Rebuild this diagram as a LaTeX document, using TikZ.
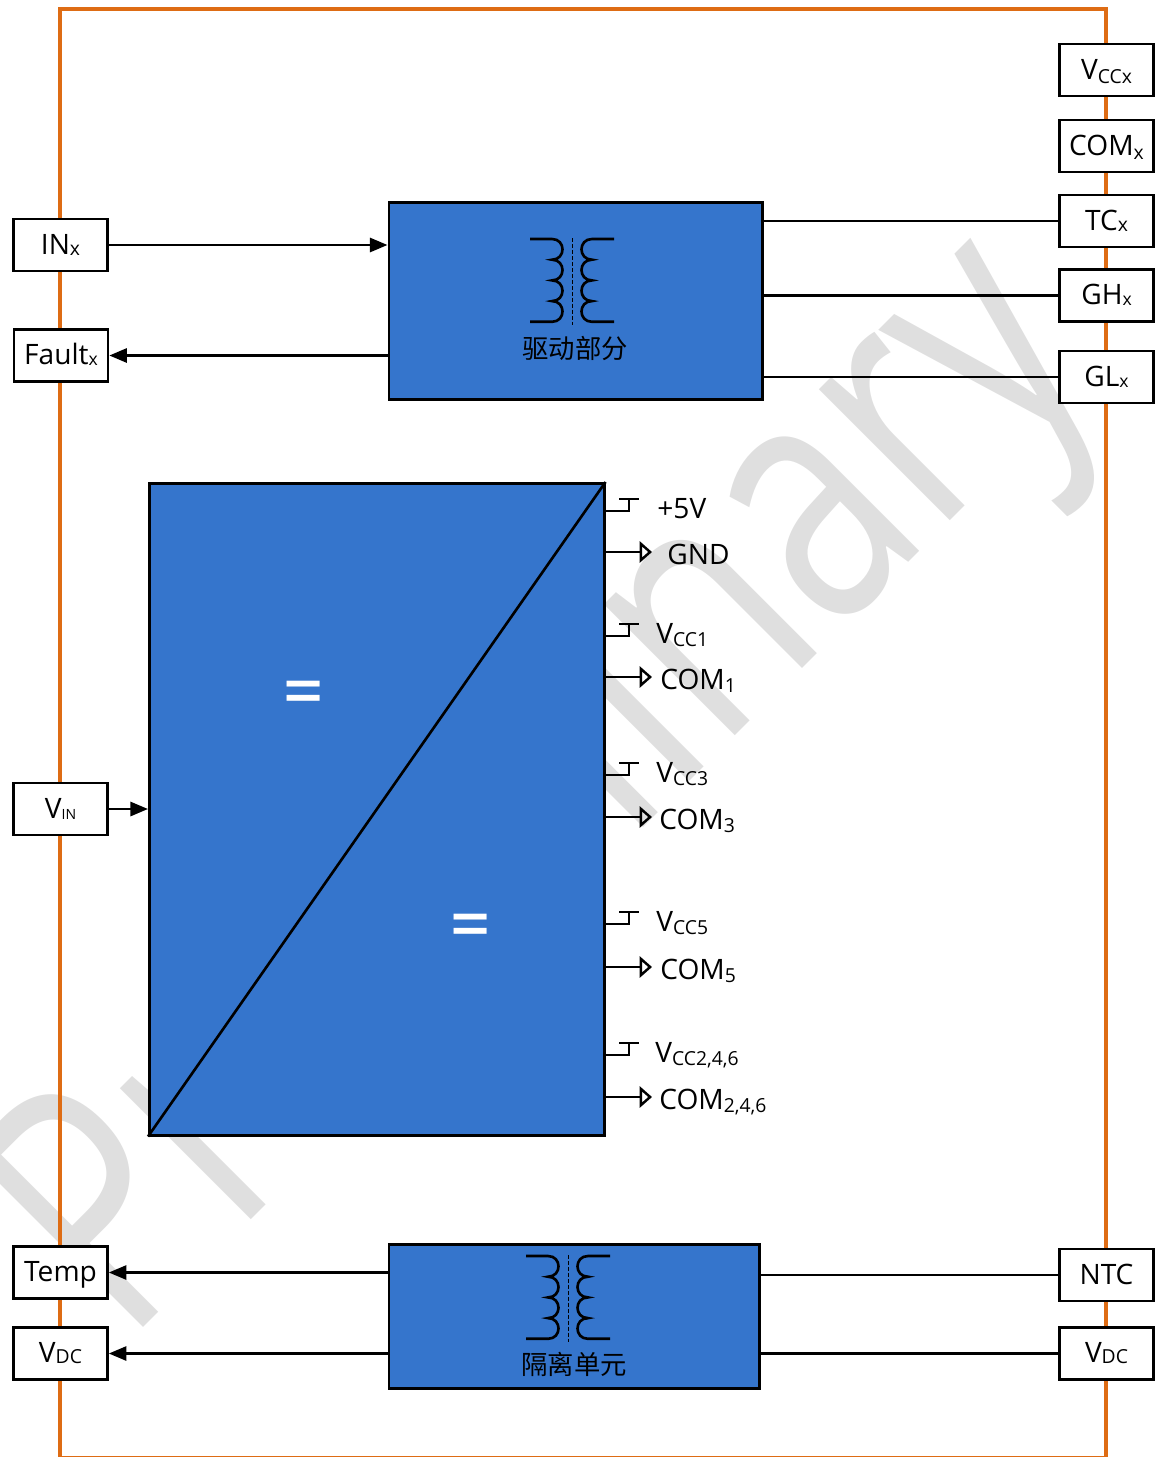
\documentclass[tikz,border=0pt]{standalone}
\usepackage{fontspec}
\setmainfont{Open Sans}
\newfontfamily\cjkfont{Noto Sans CJK SC}
\newfontfamily\eqfont{DejaVu Sans}
\usetikzlibrary{arrows.meta, positioning, calc}
\definecolor{drvblue}{RGB}{53, 117, 204}
\definecolor{frameorange}{RGB}{222, 108, 20}
\definecolor{wmgray}{RGB}{223, 223, 223}
\newcommand{\pinlab}[3][11]{#2{\fontsize{#1}{#1}\selectfont\raisebox{-2.2pt}{#3}}}
\newcommand{\pintag}[3][11]{#2{\fontsize{#1}{#1}\selectfont\raisebox{-0.7pt}{#3}}}
\begin{document}
\begin{tikzpicture}[
  x=0.02cm, y=-0.02cm,
  pinbox/.style={draw=black, fill=white, line width=1.5pt, minimum width=1.88cm, minimum height=1.04cm, inner sep=0pt, text height=10.5pt, text depth=0pt, font=\fontsize{16}{16}\selectfont},
  bluebox/.style={draw=black, fill=drvblue, line width=1.5pt, inner sep=0pt, anchor=north west},
  wire/.style={draw=black, line width=1.5pt},
  sig/.style={wire, -{Triangle[length=10pt, width=8pt]}},
  hollow/.style={wire, -{Triangle[open, length=7pt, width=12pt, line width=1.4pt]}},
  outlab/.style={anchor=base west, inner sep=0pt, font=\fontsize{16}{16}\selectfont},
  cjklab/.style={inner sep=0pt, font=\cjkfont\fontsize{15}{15}\selectfont},
  eqmark/.style={text=white, inner sep=0pt, yscale=1.35, font=\eqfont\fontsize{30}{30}\selectfont},
  coilpair/.pic={
    \draw[line width=1.5pt] (0,0) -- (22,0)
      .. controls +(14,0) and +(14,0) .. ++(0,20.7)
      .. controls +(14,0) and +(14,0) .. ++(0,20.7)
      .. controls +(14,0) and +(14,0) .. ++(0,20.7)
      .. controls +(14,0) and +(14,0) .. ++(0,20.7) -- ++(-22,0);
    \draw[line width=1.5pt] (84,0) -- (62,0)
      .. controls +(-14,0) and +(-14,0) .. ++(0,20.7)
      .. controls +(-14,0) and +(-14,0) .. ++(0,20.7)
      .. controls +(-14,0) and +(-14,0) .. ++(0,20.7)
      .. controls +(-14,0) and +(-14,0) .. ++(0,20.7) -- ++(22,0);
    \draw[line width=0.5pt, dash pattern=on 2.2pt off 1.2pt] (42,-1) -- (42,86);
  }
]
  \useasboundingbox (0,0) rectangle (1157,1457);
  % watermark
  \begin{scope}
    \clip (0,0) rectangle (1157,1457);
    \node[anchor=base west, inner sep=0pt, rotate=45, xscale=0.75, text=wmgray, font=\fontsize{197}{197}\selectfont] (wmark) at (125,1346) {Preliminary};
  \end{scope}
  % frame
  \draw[draw=frameorange, line width=2.4pt] (60,9) rectangle (1106,1458);

  % blue blocks
  \node[bluebox, minimum width=7.48cm, minimum height=3.94cm] (drv) at (387.5,201) {};
  \node[bluebox, minimum width=9.1cm, minimum height=13.04cm] (dcdc) at (148,482) {};
  \node[bluebox, minimum width=7.42cm, minimum height=2.88cm] (iso) at (387.5,1243) {};
  \draw[wire] (dcdc.south west) -- (dcdc.north east);
  \node[eqmark] (eqin) at (304,697) {=};
  \node[eqmark] (eqout) at (471,930) {=};
  \pic at (530,239) {coilpair};
  \pic at (526,1256) {coilpair};
  \node[cjklab] (drvlab) at (575,348) {驱动部分};
  \node[cjklab] (isolab) at (574,1364) {隔离单元};

  % pins, left side
  \node[pinbox] (inx) at (60.5,245) {\pintag{IN}{x}};
  \node[pinbox] (fault) at (61,355.5) {\pintag[10]{Fault}{x}};
  \node[pinbox] (vin) at (60.5,809) {\pintag[8]{V}{IN}};
  \node[pinbox] (temp) at (60.5,1272.5) {Temp};
  \node[pinbox] (vdcl) at (60.5,1353.5) {\pintag{V}{DC}};
  % pins, right side
  \node[pinbox] (vccx) at (1106.5,70) {\pinlab{V}{CCx}};
  \node[pinbox] (comx) at (1106.5,146) {\pinlab{COM}{x}};
  \node[pinbox] (tcx) at (1106.5,221) {\pintag{TC}{x}};
  \node[pinbox] (ghx) at (1106.5,295.5) {\pintag[10]{GH}{x}};
  \node[pinbox] (glx) at (1106.5,377) {\pintag[10]{GL}{x}};
  \node[pinbox] (ntc) at (1106.5,1275) {NTC};
  \node[pinbox] (vdcr) at (1106.5,1353.5) {\pintag{V}{DC}};

  \draw[sig] (inx.east) -- (inx.east -| drv.west);
  \draw[sig] (fault.east -| drv.west) -- (fault.east);
  \draw[sig] (vin.east) -- (vin.east -| dcdc.west);
  \draw[sig] (temp.east -| iso.west) -- (temp.east);
  \draw[sig] (vdcl.east -| iso.west) -- (vdcl.east);
  \draw[wire] (tcx.west) -- (tcx.west -| drv.east);
  \draw[wire] (ghx.west) -- (ghx.west -| drv.east);
  \draw[wire] (glx.west) -- (glx.west -| drv.east);
  \draw[wire] (ntc.west) -- (ntc.west -| iso.east);
  \draw[wire] (vdcr.west) -- (vdcr.west -| iso.east);

  % outputs of the dc block
  \foreach \pname/\ya/\yb/\xa/\xb/\txta/\txtb in {
    p5/511/552/657/667/{+5V}/{GND},
    o1/636/677/656/660/{\pinlab[11]{V}{CC1}}/{COM\pinlab[11]{}{1}},
    o3/775/817/656/659/{\pinlab[11]{V}{CC3}}/{COM\pinlab[11]{}{3}},
    o5/924/967/656/660/{\pinlab[11]{V}{CC5}}/{COM\pinlab[11]{}{5}},
    o246/1055/1097/655/659/{\pinlab[11]{V}{CC2,4,6}}/{COM\pinlab[11]{}{2,4,6}}} {
    \node[outlab] (\pname a) at (\xa,\ya+7) {\txta};
    \node[outlab] (\pname b) at (\xb,\yb+12) {\txtb};
    \coordinate (\pname t) at (629,\ya);
    \coordinate (\pname g) at (652,\yb);
    \draw[wire] (\pname t -| dcdc.east) -- (\pname t) -- ++(0,-12);
    \draw[wire] ($(\pname t)+(-10,-12)$) -- ++(20,0);
    \draw[hollow] (\pname g -| dcdc.east) -- (\pname g);
  }
\end{tikzpicture}
\end{document}
